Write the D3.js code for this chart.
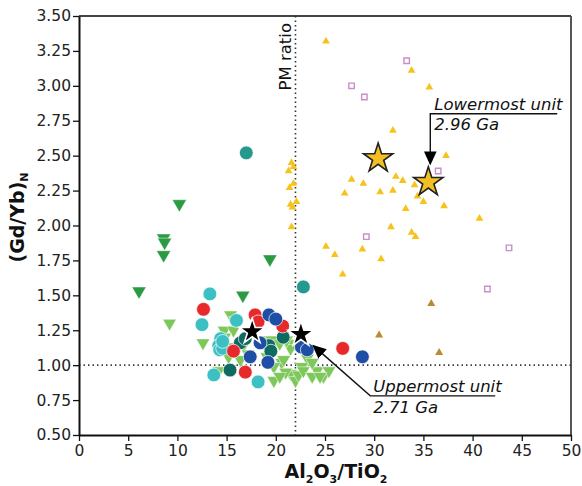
<!DOCTYPE html>
<html>
<head>
<script src="https://cdnjs.cloudflare.com/ajax/libs/d3/7.8.5/d3.min.js"></script>
<style type='text/css'>
body {
  margin: 0;
  background: #fff;
}
svg {
  display: block;
  font-family: "DejaVu Sans", sans-serif;
}
.axis path, .axis line {
  stroke: #111;
}
.axis path {
  stroke-width: 2;
}
.axis line {
  stroke-width: 1.3;
}
.axis text {
  font-size: 15.5px;
  fill: #222;
  font-family: "DejaVu Sans", sans-serif;
}
line.frame {
  stroke: #444;
  stroke-width: 1.8;
}
line.dotted {
  stroke: #333;
  stroke-width: 1.6;
  stroke-dasharray: 1.4,3.1;
}
text.title {
  font-weight: bold;
  font-size: 19px;
  fill: #111;
}
text.annot {
  font-style: italic;
  font-size: 16.5px;
  fill: #111;
}
text.pm {
  font-size: 16.5px;
  fill: #111;
}
path.leader {
  fill: none;
  stroke: #111;
  stroke-width: 1.4;
}
</style>
</head>
<body>
<div id="plot1"></div>
<script type='text/javascript'>
// tick values
var xTicks = [0, 5, 10, 15, 20, 25, 30, 35, 40, 45, 50];
var yTicks = [0.50, 0.75, 1.00, 1.25, 1.50, 1.75, 2.00, 2.25, 2.50, 2.75, 3.00, 3.25, 3.50];

// primitive mantle ratios
var pmAlTi = 22;
var pmGdYb = 1.0;

// Al2O3/TiO2 , (Gd/Yb)N
var goldTri = [[21.6,2.45],[21.3,2.39],[21.8,2.42],[21.4,2.27],[21.8,2.30],[21.5,2.15],[22.1,2.17],
  [21.7,2.13],[21.6,1.99],[25.1,3.32],[33.8,3.11],[35.6,2.99],[31.9,2.68],[37.3,2.50],[27.7,2.33],
  [28.9,2.30],[27.0,2.23],[30.6,2.24],[31.9,2.25],[32.2,2.35],[32.9,2.32],[34.1,2.29],[34.4,2.21],
  [35.0,2.17],[33.2,2.12],[37.1,2.14],[40.7,2.05],[31.7,1.99],[33.8,1.95],[34.2,1.92],[25.1,1.85],
  [28.8,1.83],[26.0,1.79],[30.7,1.76],[26.8,1.65]];
var tanTri = [[35.8,1.44],[30.5,1.215],[36.6,1.09]];
var pinkSq = [[33.3,3.18],[27.7,3.00],[29.0,2.92],[36.5,2.39],[29.2,1.92],[43.7,1.84],[41.5,1.545]];
var goldStar = [[30.4,2.48],[35.5,2.31]];

var darkGreenTri = [[6.1,1.53],[8.6,1.91],[8.7,1.88],[8.6,1.79],[10.2,2.155],[16.65,1.50],[19.4,1.76]];
var lightGreenTri = [[9.2,1.30],[12.6,1.16],[14.75,1.25],[15.4,1.36],[15.9,1.32],[15.7,1.25],[15.2,1.06],
  [15.4,1.13],[16.4,1.04],[16.7,1.14],[18.75,1.18],[19.6,1.18],[19.1,1.06],[20.6,1.02],[21.5,1.155],
  [19.8,0.89],[21.5,0.94],[22.0,0.89],[19.8,0.99],[14.2,0.96],[20.4,1.155],[21.5,1.12],[23.2,1.05],
  [22.65,0.99],[20.8,1.04],[21.0,0.95],[22.3,0.93],[22.8,0.96],[24.2,0.96],[24.85,0.92],[25.4,0.96],
  [23.7,0.92],[21.1,1.18],[23.7,1.02],[24.5,0.92],[20.4,0.92],[14.8,1.20],[17.2,1.08]];
var cyanDot = [[13.3,1.51],[12.5,1.29],[16.0,1.32],[14.4,1.19],[14.2,1.14],[14.3,1.11],[14.6,1.12],
  [14.6,1.17],[13.7,0.93],[18.2,0.88]];
var tealDot = [[17.0,2.52],[22.8,1.56]];
var darkTealDot = [[15.35,0.965],[16.4,1.16],[16.9,1.19],[19.3,1.14],[19.5,1.10],[20.75,1.20]];
var redDot = [[12.65,1.40],[17.9,1.36],[18.2,1.31],[20.7,1.28],[15.7,1.10],[16.9,0.95],[26.8,1.12]];
var blueDot = [[19.3,1.36],[20.0,1.33],[18.4,1.16],[17.4,1.06],[19.2,1.02],[22.6,1.13],[23.2,1.11],[28.8,1.06]];
var blackStar = [[17.6,1.24],[22.55,1.22]];

// annotation leaders: [underline end, elbow, arrow tip]
var lowerLeader = [[48.6,2.80],[35.7,2.80],[35.7,2.44]];
var upperLeader = [[42.3,0.78],[29.6,0.78],[23.8,1.14]];

document.addEventListener("DOMContentLoaded", function(event) {

var margin = {top: 16, right: 11, bottom: 51, left: 79},
    width = 582,
    height = 486;

var svg = d3.select("div#plot1").append("svg")
    .attr("width", width)
    .attr("height", height);
var defs = svg.append("defs");

defs.append("marker")
    .attr("id", "arrowhead")
    .attr("viewBox", "0 -5 10 10")
    .attr("refX", 9)
    .attr("refY", 0)
    .attr("markerUnits", "userSpaceOnUse")
    .attr("markerWidth", 14)
    .attr("markerHeight", 14)
    .attr("orient", "auto")
  .append("path")
    .attr("d", "M0,-4.5L10,0L0,4.5Z")
    .attr("fill", "#000");

var xsc = d3.scaleLinear().domain([0, 50]).range([margin.left, width - margin.right]),
    ysc = d3.scaleLinear().domain([0.5, 3.5]).range([height - margin.bottom, margin.top]);

// frame top and right
svg.append("line").attr("class", "frame")
  .attr("x1", xsc(0)).attr("x2", xsc(50)).attr("y1", ysc(3.5)).attr("y2", ysc(3.5));
svg.append("line").attr("class", "frame")
  .attr("x1", xsc(50)).attr("x2", xsc(50)).attr("y1", ysc(3.5)).attr("y2", ysc(0.5));

// PM reference lines
svg.append("line").attr("class", "dotted")
  .attr("x1", xsc(pmAlTi)).attr("x2", xsc(pmAlTi)).attr("y1", ysc(3.5)).attr("y2", ysc(0.5));
svg.append("line").attr("class", "dotted")
  .attr("x1", xsc(0)).attr("x2", xsc(50)).attr("y1", ysc(pmGdYb)).attr("y2", ysc(pmGdYb));

svg.append("text")
  .attr("class", "pm")
  .attr("transform", "translate(" + (xsc(pmAlTi) - 4) + "," + (ysc(3.5) + 7) + ") rotate(-90)")
  .attr("text-anchor", "end")
  .text("PM ratio");

// marks
var plot = svg.append("g");

function symbols(data, type, size, fill, stroke, sw, flip) {
  plot.append("g").selectAll("path")
    .data(data)
    .enter().append("path")
      .attr("d", d3.symbol().type(type).size(size))
      .attr("transform", function(d) {
        return "translate(" + xsc(d[0]) + "," + ysc(d[1]) + ")" + (flip ? " rotate(180)" : "");
      })
      .attr("fill", fill)
      .attr("stroke", stroke)
      .attr("stroke-width", sw);
}
function dots(data, fill) {
  plot.append("g").selectAll("circle")
    .data(data)
    .enter().append("circle")
      .attr("cx", function(d) { return xsc(d[0]); })
      .attr("cy", function(d) { return ysc(d[1]); })
      .attr("r", 6.9)
      .attr("fill", fill)
      .attr("stroke", "#fff")
      .attr("stroke-width", 0.7);
}

symbols(pinkSq, d3.symbolSquare, 30, "#fff", "#c78fc7", 1.4, false);
symbols(goldTri, d3.symbolTriangle, 26, "#f7c21b", "none", 0, false);
symbols(tanTri, d3.symbolTriangle, 28, "#b98c34", "none", 0, false);
symbols(darkGreenTri, d3.symbolTriangle, 88, "#2b9a42", "#fff", 0.5, true);
symbols(lightGreenTri, d3.symbolTriangle, 80, "#7ec75a", "#fff", 0.5, true);
dots(cyanDot, "#3dc0c4");
dots(tealDot, "#26998f");
dots(darkTealDot, "#0f6b62");
dots(redDot, "#e8292c");
dots(blueDot, "#1f4ea6");
symbols(blackStar, d3.symbolStar, 200, "#000", "#fff", 1.6, false);
symbols(goldStar, d3.symbolStar, 265, "#f4bf22", "#222", 1.6, false);

// axes
var yAxis = d3.axisLeft(ysc).tickValues(yTicks).tickFormat(d3.format(".2f"))
  .tickSize(6).tickSizeOuter(0).tickPadding(2);
var xAxis = d3.axisBottom(xsc).tickValues(xTicks).tickFormat(d3.format("d"))
  .tickSize(6).tickSizeOuter(0).tickPadding(4);

svg.append("g").attr("class", "axis")
  .attr("transform", "translate(" + margin.left + ",0)")
  .call(yAxis);
svg.append("g").attr("class", "axis")
  .attr("transform", "translate(0," + (height - margin.bottom) + ")")
  .call(xAxis);

// axis titles
var xt = svg.append("text")
  .attr("class", "title")
  .attr("x", 336)
  .attr("y", 478)
  .attr("text-anchor", "middle");
xt.append("tspan").text("Al");
xt.append("tspan").attr("font-size", "11px").attr("dy", 5).text("2");
xt.append("tspan").attr("dy", -5).text("O");
xt.append("tspan").attr("font-size", "11px").attr("dy", 5).text("3");
xt.append("tspan").attr("dy", -5).text("/TiO");
xt.append("tspan").attr("font-size", "11px").attr("dy", 5).text("2");

var yt = svg.append("text")
  .attr("class", "title")
  .attr("transform", "translate(24," + ((ysc(0.5) + ysc(3.5)) / 2 - 8) + ") rotate(-90)")
  .attr("text-anchor", "middle");
yt.append("tspan").text("(Gd/Yb)");
yt.append("tspan").attr("font-size", "11px").attr("dy", 4).text("N");

// annotations
var line = d3.line()
  .x(function(d) { return xsc(d[0]); })
  .y(function(d) { return ysc(d[1]); });

svg.append("path").datum(lowerLeader)
  .attr("class", "leader")
  .attr("d", line)
  .attr("marker-end", "url(#arrowhead)");
svg.append("path").datum(upperLeader)
  .attr("class", "leader")
  .attr("d", line)
  .attr("marker-end", "url(#arrowhead)");

svg.append("text").attr("class", "annot")
  .attr("x", xsc(lowerLeader[1][0]) + 4).attr("y", ysc(lowerLeader[0][1]) - 4)
  .text("Lowermost unit");
svg.append("text").attr("class", "annot")
  .attr("x", xsc(lowerLeader[1][0]) + 4).attr("y", ysc(lowerLeader[0][1]) + 16)
  .text("2.96 Ga");
svg.append("text").attr("class", "annot")
  .attr("x", xsc(upperLeader[1][0]) + 3).attr("y", ysc(upperLeader[0][1]) - 4)
  .text("Uppermost unit");
svg.append("text").attr("class", "annot")
  .attr("x", xsc(upperLeader[1][0]) + 3).attr("y", ysc(upperLeader[0][1]) + 17)
  .text("2.71 Ga");

}); // DOMContentLoaded event
</script>
</body>
</html>
